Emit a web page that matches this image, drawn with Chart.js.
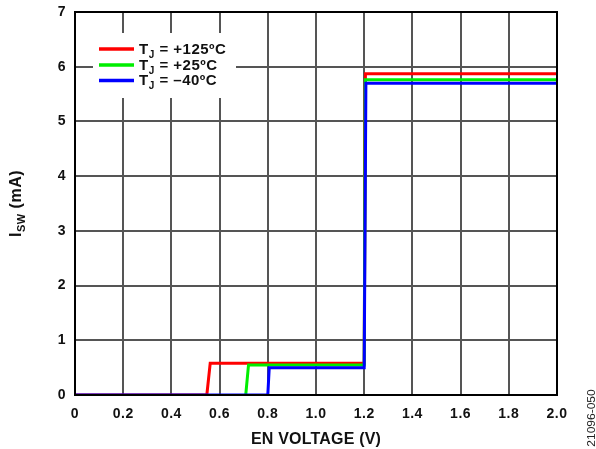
<!DOCTYPE html>
<html>
<head>
<meta charset="utf-8">
<script src="https://cdn.jsdelivr.net/npm/chart.js@4"></script>
<style>
  body { margin: 0; background: #fff; }
  #wrap { width: 596px; height: 449px; }
</style>
</head>
<body>
<div id="wrap"><canvas id="swChart" width="596" height="449"></canvas></div>
<script>
// values (EN voltage in V, switch current in mA)
const redX = [0, 0.547, 0.561, 1.2, 1.205, 2.0];
const redY = [0, 0, 0.58, 0.58, 5.87, 5.87];
const greenX = [0, 0.708, 0.72, 1.2, 1.205, 2.0];
const greenY = [-0.02, -0.02, 0.55, 0.55, 5.76, 5.76];
const blueX = [0, 0.80, 0.806, 1.2, 1.207, 2.0];
const blueY = [0, 0, 0.50, 0.50, 5.70, 5.70];

const seriesNames = ["+125ºC", "+25ºC", "–40ºC"];
const seriesColors = ["#ff0000", "#00ee00", "#0000ff"];

const xTickLabels = ["0", "0.2", "0.4", "0.6", "0.8", "1.0", "1.2", "1.4", "1.6", "1.8", "2.0"];
const yTickLabels = ["0", "1", "2", "3", "4", "5", "6", "7"];

const FONT = "'Liberation Sans', Arial, Helvetica, sans-serif";

function points(xs, ys) {
    return xs.map((x, i) => ({ x: x, y: ys[i] }));
}

// legend box inside the plot, axis titles with subscript, figure code
const extras = {
    id: "extras",
    beforeDraw(chart) {
        chart.ctx.letterSpacing = "0.5px";
    },
    afterDatasetsDraw(chart) {
        const ctx = chart.ctx;
        const a = chart.chartArea;
        ctx.save();
        ctx.strokeStyle = "#000";
        ctx.lineWidth = 2;
        ctx.strokeRect(a.left, a.top, a.right - a.left, a.bottom - a.top);

        // legend
        ctx.fillStyle = "#fff";
        ctx.fillRect(93, 33, 143, 65);
        const rows = [49, 65, 80.5];
        ctx.letterSpacing = "0.5px";
        seriesNames.forEach((name, i) => {
            const y = rows[i];
            ctx.strokeStyle = seriesColors[i];
            ctx.lineWidth = 3.5;
            ctx.beginPath();
            ctx.moveTo(99, y);
            ctx.lineTo(134, y);
            ctx.stroke();
            ctx.fillStyle = "#111";
            ctx.textBaseline = "alphabetic";
            ctx.textAlign = "left";
            let x = 139;
            ctx.font = "bold 15px " + FONT;
            ctx.fillText("T", x, y + 4.5);
            x += ctx.measureText("T").width;
            ctx.font = "bold 10px " + FONT;
            ctx.fillText("J", x, y + 8.5);
            x += ctx.measureText("J").width;
            ctx.font = "bold 15px " + FONT;
            ctx.fillText(" = " + name, x, y + 4.5);
        });

        // x axis title
        ctx.letterSpacing = "0.2px";
        ctx.font = "bold 16px " + FONT;
        ctx.textAlign = "center";
        ctx.textBaseline = "alphabetic";
        ctx.fillStyle = "#111";
        ctx.fillText("EN VOLTAGE (V)", (a.left + a.right) / 2, 444);

        // y axis title: I_SW (mA)
        ctx.letterSpacing = "0.5px";
        ctx.textAlign = "left";
        ctx.translate(17, (a.top + a.bottom) / 2);
        ctx.rotate(-Math.PI / 2);
        ctx.font = "bold 16px " + FONT;
        const w1 = ctx.measureText("I").width;
        const w3 = ctx.measureText(" (mA)").width;
        ctx.font = "bold 11px " + FONT;
        const w2 = ctx.measureText("SW").width;
        let x = -(w1 + w2 + w3) / 2;
        ctx.textBaseline = "middle";
        ctx.font = "bold 16px " + FONT;
        ctx.fillText("I", x, 0);
        x += w1;
        ctx.font = "bold 11px " + FONT;
        ctx.fillText("SW", x, 4.5);
        x += w2;
        ctx.font = "bold 16px " + FONT;
        ctx.fillText(" (mA)", x, 0);
        ctx.restore();

        // figure code
        ctx.save();
        ctx.letterSpacing = "0px";
        ctx.translate(592, 418);
        ctx.rotate(-Math.PI / 2);
        ctx.scale(1.2, 1);
        ctx.font = "10px " + FONT;
        ctx.fillStyle = "#222";
        ctx.textAlign = "center";
        ctx.textBaseline = "middle";
        ctx.fillText("21096-050", 0, 0);
        ctx.restore();
    }
};

const allX = [redX, greenX, blueX];
const allY = [redY, greenY, blueY];

new Chart(document.getElementById("swChart"), {
    type: "line",
    data: {
        datasets: seriesNames.map((name, i) => ({
            label: name,
            data: points(allX[i], allY[i]),
            borderColor: seriesColors[i],
            borderWidth: 3,
            pointRadius: 0,
            fill: false,
            tension: 0,
            order: 2 - i,
        })),
    },
    options: {
        responsive: false,
        animation: false,
        layout: { padding: { left: 0, right: 39, top: 12, bottom: 0 } },
        plugins: {
            legend: { display: false },
            tooltip: { enabled: false },
        },
        scales: {
            x: {
                type: "linear",
                min: 0,
                max: 2,
                afterFit: (s) => {
                    s.height = 54;
                    s.paddingLeft = 0;
                    s.paddingRight = 0;
                },
                afterBuildTicks: (s) => {
                    s.ticks = xTickLabels.map((t) => ({ value: parseFloat(t) }));
                },
                ticks: {
                    callback: (v, i) => xTickLabels[i],
                    color: "#111",
                    font: { family: FONT, size: 14, weight: "bold" },
                    padding: 11,
                    maxRotation: 0,
                },
                grid: { color: "#555", lineWidth: 2, drawTicks: false },
                border: { display: false },
            },
            y: {
                type: "linear",
                min: 0,
                max: 7,
                afterFit: (s) => {
                    s.width = 75;
                    s.paddingTop = 0;
                    s.paddingBottom = 0;
                },
                afterBuildTicks: (s) => {
                    s.ticks = yTickLabels.map((t) => ({ value: parseFloat(t) }));
                },
                ticks: {
                    callback: (v, i) => yTickLabels[i],
                    color: "#111",
                    font: { family: FONT, size: 14, weight: "bold" },
                    padding: 9,
                },
                grid: { color: "#555", lineWidth: 2, drawTicks: false },
                border: { display: false },
            },
        },
    },
    plugins: [extras],
});
</script>
</body>
</html>
